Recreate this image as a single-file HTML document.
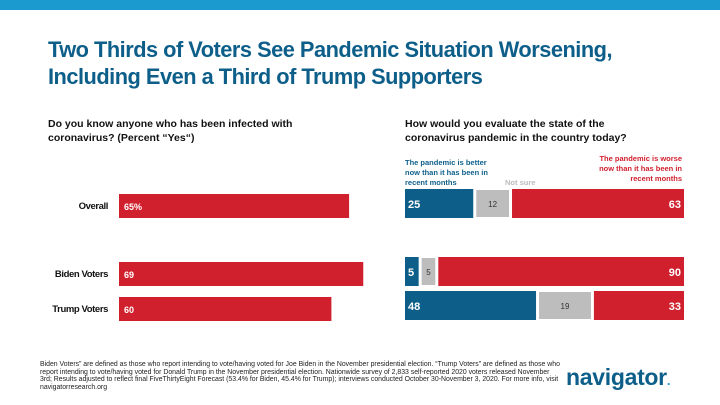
<!DOCTYPE html>
<html><head><meta charset="utf-8"><style>
body{margin:0;width:720px;height:405px;overflow:hidden;background:#fff;font-family:"Liberation Sans",sans-serif;position:relative}
.abs{position:absolute}
.t{color:#0d5f8a;font-weight:bold;font-size:21.8px;line-height:27px;left:48px;top:36px;letter-spacing:-0.5px}
.q{font-weight:bold;font-size:10.5px;line-height:14px;color:#111}
.fn{font-size:6.9px;line-height:7.7px;color:#222;left:40px;top:361px;width:520px}
</style></head><body>
<div class="abs" style="left:0;top:0;width:720px;height:10px;background:#1b9ad0"></div>
<div class="abs t">Two Thirds of Voters See Pandemic Situation Worsening,<br>Including Even a Third of Trump Supporters</div>
<div class="abs q" style="left:48px;top:117px;width:290px">Do you know anyone who has been infected with coronavirus? (Percent “Yes“)</div>
<div class="abs q" style="left:405px;top:117px;width:245px">How would you evaluate the state of the coronavirus pandemic in the country today?</div>
<div class="abs" style="left:405px;top:158px;font-size:7.5px;line-height:10px;font-weight:bold;color:#0d5f8a">The pandemic is better<br>now than it has been in<br>recent months</div>
<div class="abs" style="left:505px;top:178px;font-size:7.5px;font-weight:bold;color:#bbb">Not sure</div>
<div class="abs" style="left:560px;top:154px;width:122px;text-align:right;font-size:7.5px;line-height:10px;font-weight:bold;color:#d0202e">The pandemic is worse<br>now than it has been in<br>recent months</div>
<svg class="abs" style="left:0;top:0" width="720" height="405" id="chart"></svg>
<div class="abs fn">Biden Voters” are defined as those who report intending to vote/having voted for Joe Biden in the November presidential election. “Trump Voters” are defined as those who report intending to vote/having voted for Donald Trump in the November presidential election. Nationwide survey of 2,833 self-reported 2020 voters released November 3rd; Results adjusted to reflect final FiveThirtyEight Forecast (53.4% for Biden, 45.4% for Trump); interviews conducted October 30-November 3, 2020. For more info, visit navigatorresearch.org</div>
<div class="abs" style="left:566px;top:364px;font-size:23px;font-weight:bold;color:#0d5f8a;letter-spacing:-0.3px">navigator<span style="color:#1b9ad0;font-size:13px">.</span></div>
<script>
const groups=["Overall","Biden Voters","Trump Voters"];
const yesVals=[65,69,60];
const yesLabels=["65%","69","60"];
const better=[25,5,48];
const notSure=[12,5,19];
const worse=[63,90,33];
const NS="http://www.w3.org/2000/svg";
const svg=document.getElementById('chart');
const rowsL=[194,262,297], rowsR=[189,257,291];
const lx=v=>v*3.54, rScale=(279-6)/100;
function rect(x,y,w,h,f){const r=document.createElementNS(NS,'rect');r.setAttribute('x',x);r.setAttribute('y',y);r.setAttribute('width',w);r.setAttribute('height',h);r.setAttribute('fill',f);svg.appendChild(r);return r;}
function text(x,y,s,f,anchor,size,w){const t=document.createElementNS(NS,'text');t.setAttribute('x',x);t.setAttribute('y',y);t.setAttribute('fill',f);t.setAttribute('font-size',size);t.setAttribute('font-weight',w||'bold');t.setAttribute('text-anchor',anchor);t.setAttribute('font-family','Liberation Sans, sans-serif');t.textContent=s;svg.appendChild(t);return t;}
groups.forEach((g,i)=>{
 const lab=text(108,rowsL[i]+15,g,'#111','end',9.5);
 
 
 lab.setAttribute('letter-spacing','-0.4');
 const b=rect(119,rowsL[i],lx(yesVals[i]),24,'#d0202e');
 
 
 const v=text(124,rowsL[i]+16,yesLabels[i],'#fff','start',9);
 
 
 let x=405;const y=rowsR[i],h=29;
 const wb=better[i]*rScale,wn=notSure[i]*rScale,ww=worse[i]*rScale;
 const s1=rect(x,y,wb,h,'#0d5f8a');
 
 
 const t1=text(x+3,y+19,better[i],'#fff','start',11);
 
 
 x+=wb+3;
 const s2=rect(x,y+1,wn,h-2,'#bdbdbd');
 
 
 const t2=text(x+wn/2,y+18,notSure[i],'#333','middle',8,'normal');
 
 
 x+=wn+3;
 const s3=rect(x,y,ww,h,'#d0202e');
 
 
 const t3=text(x+ww-3,y+19,worse[i],'#fff','end',11);
 
 
});
</script>
</body></html>
